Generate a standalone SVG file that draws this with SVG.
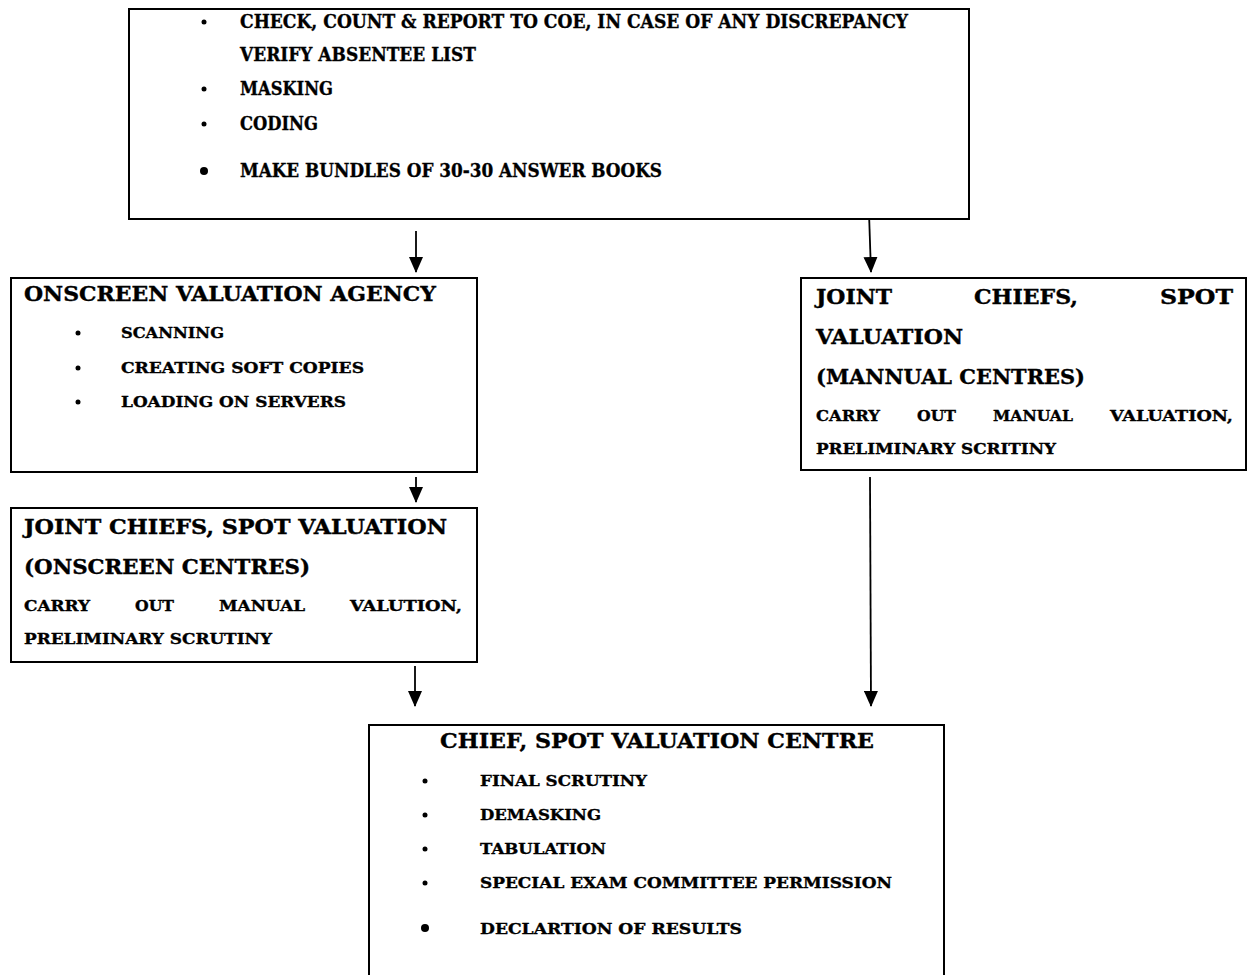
<svg xmlns="http://www.w3.org/2000/svg" width="1251" height="975" viewBox="0 0 1251 975">
<style>
.box{fill:#fff;stroke:#000;stroke-width:2}
.t{font-family:"DejaVu Serif","Liberation Serif",serif;font-weight:bold;fill:#000;stroke:#000;stroke-width:0.35}
.h{font-size:20px}
.s{font-size:15px}
.c{font-size:18px}
.con{stroke:#000;stroke-width:1.8;fill:none}
</style>
<defs>
<marker id="ah" markerWidth="16" markerHeight="14" refX="15" refY="7" orient="auto" markerUnits="userSpaceOnUse" viewBox="0 0 16 14">
<path d="M0,0 L16,7 L0,14 z" fill="#000"/>
</marker>
</defs>
<rect width="1251" height="975" fill="#fff"/>
<g id="connectors">
<line class="con" x1="416" y1="231" x2="416" y2="272" marker-end="url(#ah)"/>
<line class="con" x1="869" y1="213" x2="871" y2="272" marker-end="url(#ah)"/>
<line class="con" x1="416" y1="477" x2="416" y2="502" marker-end="url(#ah)"/>
<line class="con" x1="415" y1="666" x2="415" y2="706" marker-end="url(#ah)"/>
<line class="con" x1="870" y1="477" x2="871" y2="706" marker-end="url(#ah)"/>
</g>
<g id="node-top">
<rect class="box" x="129" y="9" width="840" height="210"/>
<circle cx="204" cy="22" r="2.5"/>
<circle cx="204" cy="89" r="2.5"/>
<circle cx="204" cy="124" r="2.5"/>
<circle cx="204" cy="171" r="4"/>
<text class="t c" x="240" y="28" textLength="668" lengthAdjust="spacingAndGlyphs">CHECK, COUNT &amp; REPORT TO COE, IN CASE OF ANY DISCREPANCY</text>
<text class="t c" x="240" y="61" textLength="236" lengthAdjust="spacingAndGlyphs">VERIFY ABSENTEE LIST</text>
<text class="t c" x="240" y="95" textLength="93" lengthAdjust="spacingAndGlyphs">MASKING</text>
<text class="t c" x="240" y="130" textLength="78" lengthAdjust="spacingAndGlyphs">CODING</text>
<text class="t c" x="240" y="177" textLength="422" lengthAdjust="spacingAndGlyphs">MAKE BUNDLES OF 30-30 ANSWER BOOKS</text>
</g>
<g id="node-onscreen-agency">
<rect class="box" x="11" y="278" width="466" height="194"/>
<text class="t h" x="24" y="301" textLength="412" lengthAdjust="spacingAndGlyphs">ONSCREEN VALUATION AGENCY</text>
<circle cx="78" cy="333" r="2.5"/>
<circle cx="78" cy="368" r="2.5"/>
<circle cx="78" cy="402" r="2.5"/>
<text class="t s" x="121" y="338" textLength="103" lengthAdjust="spacingAndGlyphs">SCANNING</text>
<text class="t s" x="121" y="373" textLength="243" lengthAdjust="spacingAndGlyphs">CREATING SOFT COPIES</text>
<text class="t s" x="121" y="407" textLength="225" lengthAdjust="spacingAndGlyphs">LOADING ON SERVERS</text>
</g>
<g id="node-manual-centres">
<rect class="box" x="801" y="278" width="445" height="192"/>
<text class="t h" x="816" y="304" textLength="76" lengthAdjust="spacingAndGlyphs">JOINT</text>
<text class="t h" x="974" y="304" textLength="104" lengthAdjust="spacingAndGlyphs">CHIEFS,</text>
<text class="t h" x="1160" y="304" textLength="73" lengthAdjust="spacingAndGlyphs">SPOT</text>
<text class="t h" x="816" y="344" textLength="147" lengthAdjust="spacingAndGlyphs">VALUATION</text>
<text class="t h" x="816" y="384" textLength="269" lengthAdjust="spacingAndGlyphs">(MANNUAL CENTRES)</text>
<text class="t s" x="816" y="421" textLength="64" lengthAdjust="spacingAndGlyphs">CARRY</text>
<text class="t s" x="917" y="421" textLength="39" lengthAdjust="spacingAndGlyphs">OUT</text>
<text class="t s" x="993" y="421" textLength="80" lengthAdjust="spacingAndGlyphs">MANUAL</text>
<text class="t s" x="1110" y="421" textLength="123" lengthAdjust="spacingAndGlyphs">VALUATION,</text>
<text class="t s" x="816" y="454" textLength="240" lengthAdjust="spacingAndGlyphs">PRELIMINARY SCRITINY</text>
</g>
<g id="node-onscreen-centres">
<rect class="box" x="11" y="508" width="466" height="154"/>
<text class="t h" x="24" y="534" textLength="423" lengthAdjust="spacingAndGlyphs">JOINT CHIEFS, SPOT VALUATION</text>
<text class="t h" x="24" y="574" textLength="286" lengthAdjust="spacingAndGlyphs">(ONSCREEN CENTRES)</text>
<text class="t s" x="24" y="611" textLength="66" lengthAdjust="spacingAndGlyphs">CARRY</text>
<text class="t s" x="135" y="611" textLength="39" lengthAdjust="spacingAndGlyphs">OUT</text>
<text class="t s" x="219" y="611" textLength="86" lengthAdjust="spacingAndGlyphs">MANUAL</text>
<text class="t s" x="350" y="611" textLength="112" lengthAdjust="spacingAndGlyphs">VALUTION,</text>
<text class="t s" x="24" y="644" textLength="248" lengthAdjust="spacingAndGlyphs">PRELIMINARY SCRUTINY</text>
</g>
<g id="node-chief">
<rect class="box" x="369" y="725" width="575" height="260"/>
<text class="t h" x="440" y="748" textLength="434" lengthAdjust="spacingAndGlyphs">CHIEF, SPOT VALUATION CENTRE</text>
<circle cx="425" cy="781" r="2.5"/>
<circle cx="425" cy="815" r="2.5"/>
<circle cx="425" cy="849" r="2.5"/>
<circle cx="425" cy="883" r="2.5"/>
<circle cx="425" cy="928" r="4"/>
<text class="t s" x="480" y="786" textLength="167" lengthAdjust="spacingAndGlyphs">FINAL SCRUTINY</text>
<text class="t s" x="480" y="820" textLength="121" lengthAdjust="spacingAndGlyphs">DEMASKING</text>
<text class="t s" x="480" y="854" textLength="126" lengthAdjust="spacingAndGlyphs">TABULATION</text>
<text class="t s" x="480" y="888" textLength="412" lengthAdjust="spacingAndGlyphs">SPECIAL EXAM COMMITTEE PERMISSION</text>
<text class="t s" x="480" y="934" textLength="262" lengthAdjust="spacingAndGlyphs">DECLARTION OF RESULTS</text>
</g>
</svg>
